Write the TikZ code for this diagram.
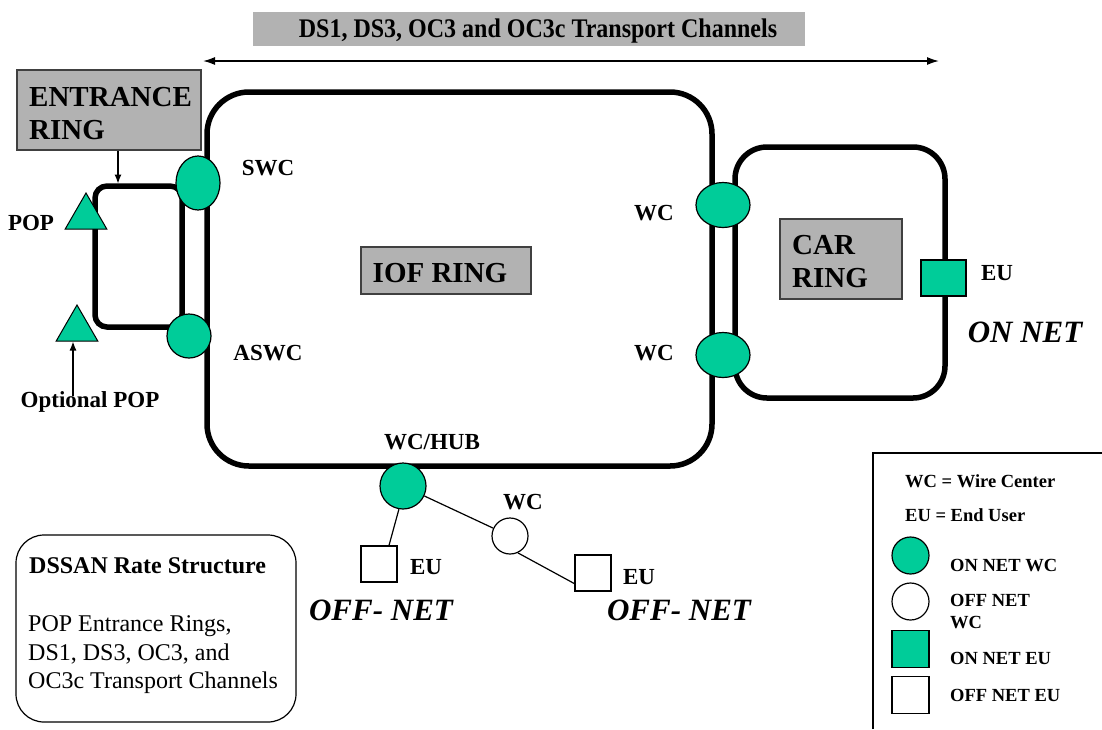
\documentclass[tikz,border=0pt]{standalone}
\usepackage{fontspec}
\setmainfont{Liberation Serif}
\usetikzlibrary{shapes.geometric,arrows.meta,calc}
\definecolor{netgreen}{RGB}{0,204,153}
\definecolor{boxgray}{RGB}{178,178,178}
\begin{document}
\begin{tikzpicture}[x=1pt,y=-1pt,
  ringline/.style={draw, line width=5.5pt, rectangle, inner sep=0pt, outer sep=0pt},
  grayb/.style={draw=black!75, line width=1.2pt, fill=boxgray, inner sep=0pt},
  onwc/.style={ellipse, draw, line width=1.2pt, fill=netgreen, inner sep=0pt},
  offwc/.style={circle, draw, line width=1.2pt, fill=white, inner sep=0pt},
  eusq/.style={rectangle, draw, line width=1.2pt, fill=white, inner sep=0pt, minimum size=36pt},
  popt/.style={regular polygon, regular polygon sides=3, draw, line width=1pt, fill=netgreen, inner sep=0pt, minimum size=48pt},
  lbl/.style={font=\fontsize{23}{25}\selectfont\bfseries, inner sep=0pt, text height=15pt, text depth=0pt},
  bigt/.style={font=\fontsize{29}{31}\selectfont\bfseries, inner sep=0pt, anchor=base west},
  nett/.style={font=\fontsize{31}{33}\selectfont\bfseries\itshape, inner sep=0pt, text height=20.3pt, text depth=0pt},
  legt/.style={font=\fontsize{18.5}{22}\selectfont\bfseries, inner sep=0pt, anchor=base west},
  dsst/.style={font=\fontsize{24}{28}\selectfont, inner sep=0pt, anchor=base west},
  arrw/.style={-{Latex[length=9pt,width=7pt]}, line width=1.2pt},
  conn/.style={line width=1.2pt}
]
\useasboundingbox (0,0) rectangle (1102,729);

% title
\node[grayb, draw=none, minimum width=552pt, minimum height=34pt] (titlebox) at (529,29) {};
\node[font=\fontsize{24}{26}\selectfont\bfseries, inner sep=0pt, text height=15.7pt, text depth=0pt, yscale=1.12] (title) at (538,29) {DS1, DS3, OC3 and OC3c Transport Channels};
\coordinate (tl) at (203,61);
\coordinate (tr) at (939,61);
\draw[{Latex[length=12pt,width=8pt]}-{Latex[length=12pt,width=8pt]}, line width=1.5pt] (tl) -- (tr);

% rings
\node[ringline, rounded corners=42pt, minimum width=505pt, minimum height=374pt] (iof) at (459.5,279) {};
\node[ringline, rounded corners=32pt, minimum width=210pt, minimum height=251pt] (car) at (840,272.5) {};
\node[ringline, rounded corners=12pt, minimum width=87pt, minimum height=141pt] (ering) at (138.5,256.5) {};

% gray label boxes
\node[grayb, minimum width=184pt, minimum height=80pt] (ebox) at (109,110) {};
\node[bigt] (ent1) at (29,106.5) {ENTRANCE};
\node[bigt] (ent2) at (29,139.5) {RING};
\node[grayb, minimum width=122pt, minimum height=80pt] (carbox) at (841,259) {};
\node[bigt] (car1) at (792,254.5) {CAR};
\node[bigt] (car2) at (792,287.5) {RING};
\node[grayb, minimum width=170pt, minimum height=47pt] (iofbox) at (446,270.5) {};
\node[font=\fontsize{29}{31}\selectfont\bfseries, inner sep=0pt, text height=19pt, text depth=0pt] (ioft) at (440,273) {IOF RING};

% arrows
\draw[arrw, shorten >=2.5pt] ([xshift=9pt]ebox.south) -- ([xshift=9pt]ebox.south |- ering.north);

% wire centers
\node[onwc, minimum width=44pt, minimum height=54pt] (swc) at (198,183) {};
\node[onwc, minimum width=44pt, minimum height=44pt] (aswc) at (189,336) {};
\node[onwc, minimum width=54pt, minimum height=45pt] (wc1) at (723,205) {};
\node[onwc, minimum width=54pt, minimum height=45pt] (wc2) at (723,355) {};
\node[onwc, minimum width=46pt, minimum height=46pt] (hub) at (403,486) {};
\node[offwc, minimum size=36pt] (owc) at (510,536) {};
\node[eusq, fill=netgreen, minimum width=45pt, minimum height=36pt] (careu) at (943.5,278) {};
\node[eusq] (eu1) at (379,564) {};
\node[eusq] (eu2) at (593,573) {};

% POPs
\node[popt] (pop) at (86,217) {};
\node[popt] (opop) at (77,329) {};

% labels
\node[lbl] (swcl) at (268,168) {SWC};
\node[lbl] (aswcl) at (268,353) {ASWC};
\node[lbl] (popl) at (31,223) {POP};
\node[lbl] (optl) at (90,400) {Optional POP};
\node[lbl] (wc1l) at (654,213) {WC};
\node[lbl] (wc2l) at (654,353) {WC};
\node[lbl] (hubl) at (432,442) {WC/HUB};
\node[lbl] (owcl) at (523,502) {WC};
\node[lbl] (eu1l) at (426,567) {EU};
\node[lbl] (eu2l) at (639,577) {EU};
\node[lbl] (careul) at (997,273) {EU};
\node[nett] (onnet) at (1025,332) {ON NET};
\node[nett] (off1) at (381,610) {OFF- NET};
\node[nett] (off2) at (679,610) {OFF- NET};

\draw[arrw] ([xshift=-17pt,yshift=-4pt]optl.north) -- ([xshift=-17pt]optl.north |- opop.south);

% connectors
\draw[conn] (hub.260) -- ($(eu1.north)+(10,0)$);
\draw[conn] (hub) -- (owc);
\draw[conn] (owc.-65) -- ($(eu2.south west)+(0,-8)$);

% DSSAN box
\node[draw, line width=1.2pt, rounded corners=28pt, minimum width=280pt, minimum height=187pt, inner sep=0pt] (dssan) at (156,628.5) {};
\node[dsst, font=\fontsize{24}{28}\selectfont\bfseries] (ds0) at (29,573) {DSSAN Rate Structure};
\node[dsst] (ds1) at (28,631) {POP Entrance Rings,};
\node[dsst] (ds2) at (28,660) {DS1, DS3, OC3, and};
\node[dsst] (ds3) at (28,688) {OC3c Transport Channels};

% legend
\coordinate (lgbl) at (873,729);
\coordinate (lgtl) at (873,453);
\coordinate (lgtr) at (1102,453);
\draw[conn] (lgbl) -- (lgtl) -- (lgtr);
\node[legt] (lg1) at (905,487) {WC = Wire Center};
\node[legt] (lg2) at (905,521) {EU = End User};
\node[onwc, minimum width=37pt, minimum height=37pt] (lgc1) at (910.5,555.5) {};
\node[legt] (lg3) at (950,571) {ON NET WC};
\node[offwc, minimum size=37pt] (lgc2) at (910.5,601.5) {};
\node[legt] (lg4a) at (950,606) {OFF NET};
\node[legt] (lg4b) at (950,628) {WC};
\node[eusq, fill=netgreen, minimum size=37pt] (lgs1) at (910.5,649) {};
\node[legt] (lg5) at (950,664) {ON NET EU};
\node[eusq, minimum size=37pt] (lgs2) at (910.5,695) {};
\node[legt] (lg6) at (950,701) {OFF NET EU};
\end{tikzpicture}
\end{document}
